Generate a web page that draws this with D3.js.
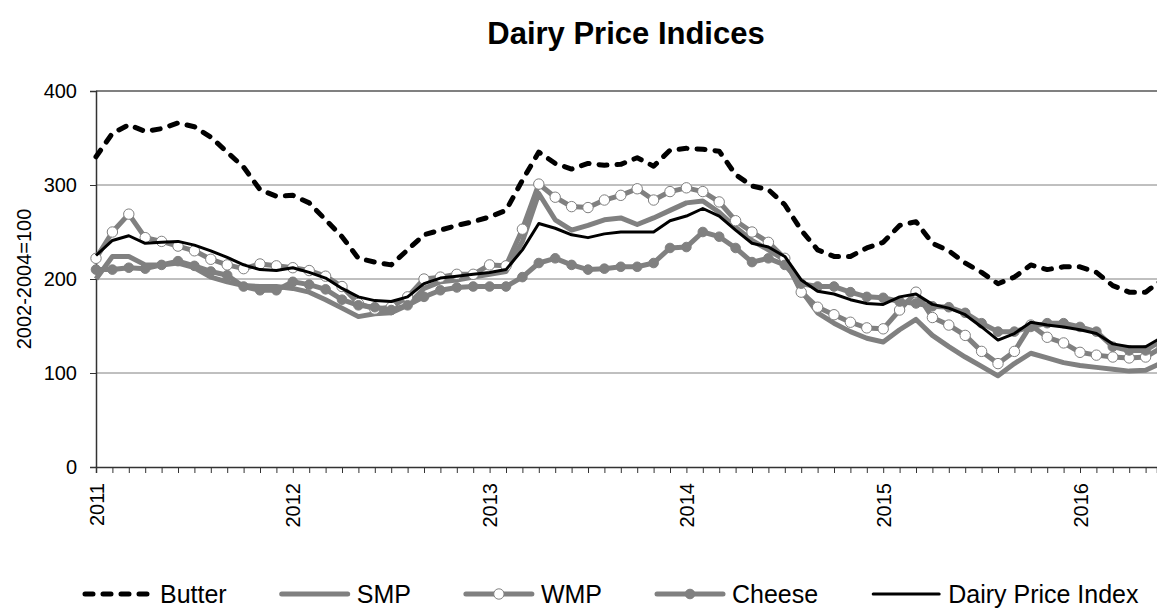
<!DOCTYPE html>
<html>
<head>
<meta charset="utf-8">
<script src="https://cdn.jsdelivr.net/npm/d3@7"></script>
<style>
  body { margin: 0; background: #fff; }
  svg text { font-family: "Liberation Sans", Arial, sans-serif; fill: #000; }
</style>
</head>
<body>
<div id="chart"></div>
<script>
// monthly values, Jan 2011 onwards (2002-2004=100)
var years = ["2011", "2012", "2013", "2014", "2015", "2016"];
var seriesNames = ["Butter", "SMP", "WMP", "Cheese", "Dairy Price Index"];
var yTicks = [0, 100, 200, 300, 400];

var butter = [330, 355, 364, 357, 360, 366, 362, 351, 335, 319, 295, 288,
              289, 281, 263, 245, 222, 218, 215, 231, 247, 252, 257, 261,
              266, 273, 305, 335, 323, 317, 323, 321, 322, 329, 320, 337,
              339, 338, 336, 311, 299, 295, 279, 252, 231, 224, 224, 233,
              239, 257, 261, 238, 230, 217, 207, 195, 202, 215, 210, 213,
              213, 207, 193, 186, 186, 199];
var smp = [200, 224, 224, 215, 215, 217, 212, 202, 197, 193, 192, 192,
           190, 186, 178, 169, 160, 163, 164, 172, 190, 197, 199, 202,
           205, 208, 240, 291, 263, 252, 257, 263, 265, 258, 265, 273,
           281, 283, 271, 255, 241, 231, 220, 188, 164, 153, 144, 137,
           133, 146, 157, 140, 128, 117, 107, 97, 110, 121, 116, 111,
           108, 106, 104, 102, 103, 111];
var wmp = [222, 250, 269, 244, 240, 235, 230, 221, 215, 211, 216, 214,
           212, 209, 203, 192, 174, 168, 170, 181, 200, 202, 205, 205,
           215, 214, 253, 301, 287, 277, 276, 284, 289, 296, 284, 293,
           297, 293, 282, 262, 250, 239, 222, 186, 170, 162, 154, 148,
           147, 167, 186, 159, 151, 140, 123, 110, 123, 151, 138, 132,
           122, 119, 117, 116, 117, 127];
var cheese = [210, 210, 212, 211, 215, 219, 214, 208, 204, 192, 188, 188,
              197, 194, 189, 178, 172, 170, 167, 172, 181, 188, 191, 192,
              192, 192, 202, 217, 222, 215, 210, 211, 213, 213, 217, 233,
              234, 250, 245, 233, 218, 222, 215, 195, 192, 192, 186, 181,
              180, 176, 174, 171, 170, 164, 153, 144, 144, 149, 153, 153,
              149, 144, 128, 124, 124, 135];
var dpi = [225, 241, 246, 238, 239, 240, 236, 230, 223, 215, 210, 209,
           212, 207, 201, 190, 181, 177, 176, 181, 195, 201, 203, 205,
           207, 210, 231, 259, 254, 247, 244, 248, 250, 250, 250, 262,
           267, 275, 267, 252, 238, 234, 224, 199, 187, 184, 178, 174,
           173, 181, 184, 173, 169, 162, 149, 135, 142, 154, 151, 149,
           146, 142, 131, 128, 128, 138];

var DAIRYCHART = (function(d3, window, undefined) {
    var width = 1157, height = 608,
        plotLeft = 96, plotRight = 1157, plotTop = 91, plotBottom = 467,
        grey = "#808080";

    var styles = [
        { color: "#000", width: 5, dash: "8,10", marker: null },
        { color: grey, width: 5, dash: null, marker: null },
        { color: grey, width: 5, dash: null, marker: "open" },
        { color: grey, width: 5, dash: null, marker: "filled" },
        { color: "#000", width: 3, dash: null, marker: null }
    ];

    var x = d3.scaleLinear()
        .domain([0, (plotRight - plotLeft) / 16.4])
        .range([plotLeft, plotRight]);

    var y = d3.scaleLinear()
        .domain([0, 400])
        .range([plotBottom, plotTop]);

    var _addMarkers = function(g, values, style) {
        g.selectAll("circle")
            .data(values)
            .enter()
            .append("circle")
            .attr("cx", function(d, i) { return x(i); })
            .attr("cy", function(d) { return y(d); })
            .attr("r", style.marker === "open" ? 5.2 : 4.8)
            .style("fill", style.marker === "open" ? "#fff" : grey)
            .style("stroke", grey)
            .style("stroke-width", 1);
    };

    var draw = function() {
        var svg = d3.select("#chart")
            .append("svg")
            .attr("width", width)
            .attr("height", height);

        svg.append("clipPath")
            .attr("id", "plotClip")
            .append("rect")
            .attr("x", plotLeft - 8)
            .attr("y", 0)
            .attr("width", plotRight - plotLeft + 8)
            .attr("height", plotBottom + 10);

        // title
        svg.append("text")
            .attr("x", 626)
            .attr("y", 44)
            .attr("text-anchor", "middle")
            .style("font-size", "31px")
            .style("font-weight", "bold")
            .text("Dairy Price Indices");

        // gridlines
        svg.append("g")
            .selectAll("line")
            .data(yTicks.slice(1))
            .enter()
            .append("line")
            .attr("x1", plotLeft)
            .attr("x2", plotRight)
            .attr("y1", function(d) { return y(d); })
            .attr("y2", function(d) { return y(d); })
            .style("stroke", grey)
            .style("stroke-width", function(d) { return d === 400 ? 2 : 1; });

        // y axis
        var yAxis = svg.append("g")
            .attr("transform", "translate(" + plotLeft + ",0)")
            .call(d3.axisLeft(y).tickValues(yTicks).tickSize(6).tickPadding(13));
        yAxis.selectAll("text").style("font-size", "20px");

        // x axis, monthly ticks with year labels
        var xAxis = svg.append("g")
            .attr("transform", "translate(0," + plotBottom + ")")
            .call(d3.axisBottom(x)
                .tickValues(d3.range(0, 65))
                .tickSize(6)
                .tickFormat(function(d) { return d % 12 === 0 ? years[d / 12] : ""; }));
        xAxis.selectAll("text")
            .style("font-size", "20px")
            .attr("text-anchor", "end")
            .attr("transform", "rotate(-90)")
            .attr("x", -16)
            .attr("y", 0)
            .attr("dy", "0.35em");

        svg.selectAll(".domain, .tick line")
            .style("stroke", "#333")
            .style("stroke-width", 1.5);
        svg.selectAll(".tick line").style("stroke-width", 1);

        // y axis title
        svg.append("text")
            .attr("transform", "translate(31," + ((plotTop + plotBottom) / 2) + ") rotate(-90)")
            .attr("text-anchor", "middle")
            .style("font-size", "20px")
            .text("2002-2004=100");

        // series
        var line = d3.line()
            .x(function(d, i) { return x(i); })
            .y(function(d) { return y(d); });

        var plot = svg.append("g").attr("clip-path", "url(#plotClip)");

        [butter, smp, wmp, cheese, dpi].forEach(function(values, k) {
            var style = styles[k];
            var g = plot.append("g");
            g.append("path")
                .datum(values)
                .attr("d", line)
                .style("fill", "none")
                .style("stroke", style.color)
                .style("stroke-width", style.width)
                .style("stroke-linejoin", "round")
                .style("stroke-linecap", style.dash ? "round" : "butt")
                .style("stroke-dasharray", style.dash);
            if (style.marker) {
                _addMarkers(g, values, style);
            }
        });

        // legend
        var legend = svg.append("g").attr("transform", "translate(0,594)");
        var lx = 83;
        seriesNames.forEach(function(name, k) {
            var style = styles[k];
            var item = legend.append("g");
            item.append("line")
                .attr("x1", lx + 2)
                .attr("x2", lx + 68)
                .style("stroke", style.color)
                .style("stroke-width", style.width)
                .style("stroke-linecap", "round")
                .style("stroke-dasharray", style.dash);
            if (style.marker) {
                item.append("circle")
                    .attr("cx", lx + 35)
                    .attr("r", style.marker === "open" ? 5.2 : 4.8)
                    .style("fill", style.marker === "open" ? "#fff" : grey)
                    .style("stroke", grey);
            }
            var t = item.append("text")
                .attr("x", lx + 77)
                .attr("dy", "0.35em")
                .style("font-size", "25px")
                .text(name);
            lx += 77 + t.node().getComputedTextLength() + 53;
        });
    };

    return {
        draw: draw
    };
})(d3, window);

DAIRYCHART.draw();
</script>
</body>
</html>
